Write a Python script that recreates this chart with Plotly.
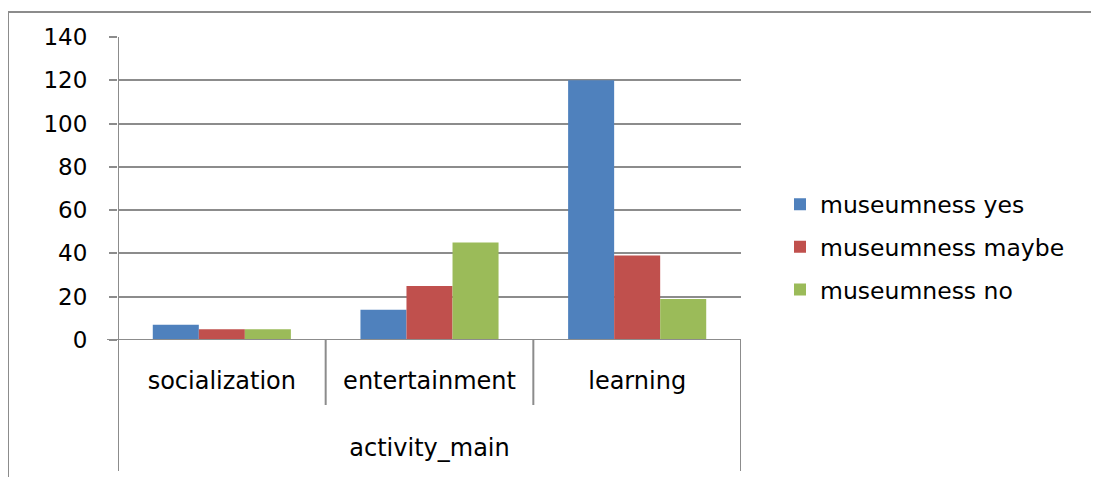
import plotly.graph_objects as go

categories = ["socialization", "entertainment", "learning"]
series_names = ["museumness yes", "museumness maybe", "museumness no"]
yes_vals = [7, 14, 120]
maybe_vals = [5, 25, 39]
no_vals = [5, 45, 19]
y_ticks = [0, 20, 40, 60, 80, 100, 120, 140]
axis_title = "activity_main"

colors = ["#4F81BD", "#C0504D", "#9BBB59"]
OFF = 8  # page body margin
W, H = 1099 - OFF, 477 - OFF
L, R, T, B = 118 - OFF, 741 - OFF, 37 - OFF, 340 - OFF  # plot area pixels (figure coords)
FONT = "DejaVu Sans"
GRAY = "#8C8C8C"


def px_x(p):
    return (p - OFF - L) / (R - L)


def px_y(p):
    return (B - (p - OFF)) / (B - T)


fig = go.Figure()
for i, (name, vals) in enumerate(zip(series_names, [yes_vals, maybe_vals, no_vals])):
    fig.add_trace(go.Bar(
        x=categories, y=vals, name=name,
        marker=dict(color=colors[i], line=dict(width=0)),
        legendgroup=name,
    ))

shapes = []
line = dict(color=GRAY, width=2)
# outer chart border (top and left visible)
shapes.append(dict(type="line", xref="paper", yref="paper",
                   x0=px_x(8), x1=px_x(1110), y0=px_y(12), y1=px_y(12), line=line))
shapes.append(dict(type="line", xref="paper", yref="paper",
                   x0=px_x(8), x1=px_x(8), y0=px_y(12), y1=px_y(490), line=line))
# category axis frame lines
shapes.append(dict(type="line", xref="x", yref="paper",
                   x0=-0.5, x1=-0.5, y0=1, y1=px_y(471), line=line))
shapes.append(dict(type="line", xref="x", yref="paper",
                   x0=2.5, x1=2.5, y0=0, y1=px_y(471), line=line))
for sep in [0.5, 1.5]:
    shapes.append(dict(type="line", xref="x", yref="paper",
                       x0=sep, x1=sep, y0=0, y1=px_y(405), line=line))
# baseline extension
shapes.append(dict(type="line", xref="paper", yref="y",
                   x0=px_x(107), x1=1, y0=0, y1=0, line=line))

fig.update_layout(
    width=W, height=H, autosize=False,
    margin=dict(l=L, r=W - R, t=T, b=H - B, pad=0),
    paper_bgcolor="white", plot_bgcolor="white",
    barmode="group", bargap=0.335, bargroupgap=0,
    font=dict(family=FONT, size=20, color="black"),
    showlegend=True,
    legend=dict(
        x=px_x(780), xanchor="left", y=px_y(247), yanchor="middle",
        font=dict(family=FONT, size=23.5, color="black"),
        traceorder="grouped", tracegroupgap=9,
        bgcolor="rgba(0,0,0,0)", borderwidth=0,
    ),
    xaxis=dict(
        type="category", range=[-0.5, 2.5],
        showgrid=False, showline=False, ticks="", zeroline=False,
        tickfont=dict(family=FONT, size=24, color="black"),
        ticklabelstandoff=24,
        title=dict(text=axis_title, font=dict(family=FONT, size=24, color="black"), standoff=45),
        automargin=False,
    ),
    yaxis=dict(
        range=[0, 140], tickvals=y_ticks,
        showgrid=True, gridcolor=GRAY, gridwidth=2,
        ticks="outside", ticklen=8, tickwidth=2, tickcolor=GRAY,
        showline=False, zeroline=False,
        tickfont=dict(family=FONT, size=23, color="black"),
        ticklabelstandoff=17,
        automargin=False,
    ),
    shapes=shapes,
)

fig.write_html("out.html")
